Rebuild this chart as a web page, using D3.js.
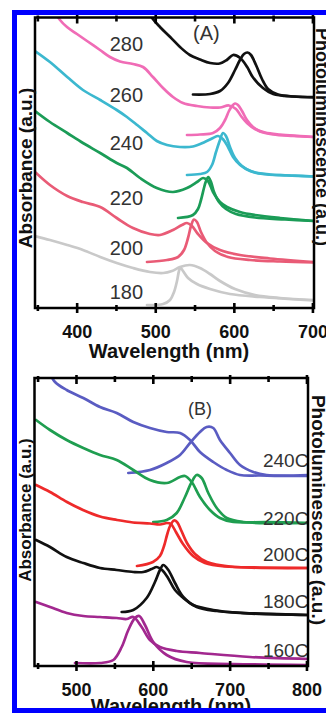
<!DOCTYPE html>
<html>
<head>
<meta charset="utf-8">
<script src="https://cdnjs.cloudflare.com/ajax/libs/d3/7.8.5/d3.min.js"></script>
<style>
  html, body { margin: 0; padding: 0; background: #fff; }
  svg { display: block; }
  text { font-family: Arial, "Liberation Sans", Helvetica, sans-serif; }
</style>
</head>
<body>
<svg id="chart"></svg>
<script>
// wavelength (nm), intensity (a.u., stacked offsets as in the figure)

// ---- panel A: growth temperature
var tempsA = ["280", "260", "240", "220", "200", "180"];
var labelLevelA = [25.7, 20.6, 15.8, 10.3, 5.3, 0.9];
var ticksA = [350, 400, 450, 500, 550, 600, 650, 700];

var absA280 = [[487,30.3],[496,29.0],[506,28.1],[519,27.1],[531.5,26.1],[544,25.3],[557,24.85],[570,24.5],[582,24.45],[591,24.8],[599,25.3],[608,25.0],[617,24.1],[624,23.1],[637,22.0],[650,21.4],[675,21.15],[702,21.1]];
var plA280 = [[548,21.35],[569.7,21.4],[582.4,21.7],[592.6,22.5],[601.5,23.8],[607.8,24.8],[612.9,25.4],[617.4,25.55],[621.8,25.3],[628.2,24.3],[635.8,22.9],[643.5,21.9],[656.2,21.35],[677.8,21.15],[702,21.07]];

var absA260 = [[372.4,29.6],[378.8,28.8],[387.7,28.1],[400.4,27.4],[413.2,26.7],[429.7,25.8],[442.4,25.1],[455.2,24.65],[471.7,24.4],[484.4,24.1],[497.1,23.1],[509.9,22.0],[522.6,21.1],[535.3,20.5],[553.1,20.2],[569.7,20.05],[582.4,20.05],[593.8,20.25],[602.7,19.9],[609.1,19.2],[616.7,18.5],[626.9,17.9],[639.7,17.55],[658.7,17.35],[684.2,17.2],[702,17.1]];
var plA260 = [[540.4,17.3],[556.9,17.35],[573.5,17.5],[582.4,18.0],[588.8,18.8],[593.8,19.7],[597.7,20.2],[601.5,20.45],[605.3,20.3],[610.4,19.7],[616.7,18.8],[624.4,18.1],[633.3,17.65],[649.8,17.35],[675.3,17.2],[702,17.1]];

var absA240 = [[347,25.7],[366,24.6],[388,23.1],[408,21.8],[430,20.8],[451,19.8],[464,19.1],[477,18.3],[489.5,17.5],[502,16.7],[515,16.3],[531.5,16.1],[548,16.15],[563,16.6],[573.5,17.0],[580,17.2],[586,16.9],[592.6,16.1],[599,15.1],[608,14.3],[620.6,13.7],[637,13.4],[667.6,13.25],[702,13.15]];
var plA240 = [[540.4,13.3],[556.9,13.4],[565.9,13.6],[572.2,14.3],[577.3,15.6],[582.4,16.8],[586.2,17.5],[590,17.2],[595.1,16.1],[601.5,15.0],[610.4,14.2],[623.1,13.65],[646,13.35],[677.8,13.25],[702,13.15]];

var absA220 = [[347,19.7],[366,18.6],[388,17.5],[408,16.5],[430,15.5],[451,14.5],[464,14.0],[480.6,13.0],[502,12.0],[522.6,11.6],[540.4,12.0],[553.1,12.6],[560.8,13.0],[567.1,12.7],[573.5,11.6],[582.4,10.6],[591.3,10.1],[607.8,9.6],[626.9,9.3],[658.7,9.0],[702,8.7]];
var plA220 = [[529,9.0],[548,9.3],[554.4,9.9],[558.2,10.8],[562,12.0],[564.6,12.7],[567.5,13.1],[571,12.6],[574.8,11.6],[581.1,10.6],[590,9.9],[602.7,9.4],[626.9,9.05],[665.1,8.85],[702,8.7]];

var absA200 = [[347,13.6],[366,12.3],[388,11.2],[408,10.6],[430,10.1],[451,9.0],[471.7,8.0],[493.3,7.4],[506,7.3],[522.6,7.8],[534,8.3],[540.4,8.5],[546.8,8.2],[554.4,7.4],[565.9,6.5],[582.4,5.8],[607.8,5.3],[646,4.95],[702,4.6]];
var plA200 = [[489.5,4.6],[515,4.8],[529,5.1],[536.6,5.8],[541.7,7.0],[545.5,8.2],[549.3,8.85],[553.1,8.6],[558.2,7.6],[565.9,6.5],[576,5.7],[592.6,5.1],[620.6,4.8],[658.7,4.65],[702,4.55]];

var absA180 = [[347,7.2],[366,6.8],[388,6.3],[408,5.8],[430,5.1],[451,4.5],[471.7,4.0],[493.3,3.6],[510,3.5],[521.3,3.7],[531.5,4.1],[544.2,4.3],[556.9,4.0],[569.7,3.4],[582.4,2.7],[601.5,1.9],[626.9,1.3],[658.7,1.0],[702,0.8]];
var plA180 = [[489.5,0.3],[510,0.4],[518.8,0.8],[523.9,1.6],[527.7,2.7],[530.2,3.7],[532.1,4.05],[535.3,3.7],[541.7,3.0],[553.1,2.4],[569.7,1.9],[595.1,1.4],[633.3,1.1],[702,0.75]];

// ---- panel B: reaction temperature
var tempsB = ["240C", "220C", "200C", "180C", "160C"];
var labelLevelB = [19.9, 14.1, 10.5, 5.8, 0.9];
var ticksB = [450, 500, 550, 600, 650, 700, 750, 800];

var absB240 = [[463.6,29.6],[472.7,28.4],[487.9,27.6],[509.5,26.8],[531.3,25.9],[553,25.3],[574.6,24.4],[596.3,23.8],[618.1,23.4],[635.4,23.3],[648.4,22.6],[661.4,21.4],[678.7,20.4],[696.2,19.6],[713.5,19.1],[739.5,19.05],[778.5,19.0],[802,19.0]];
var plB240 = [[568.1,19.3],[596.3,19.6],[618.1,20.3],[635.4,21.1],[648.4,22.3],[661.4,23.4],[670.1,23.9],[678.7,23.8],[687.4,22.6],[700.5,21.3],[713.5,20.1],[730.8,19.4],[748.2,19.1],[802,19.1]];

var absB220 = [[448,24.6],[466.2,23.6],[487.9,22.6],[509.5,21.8],[531.3,21.1],[553,20.6],[574.6,19.6],[596.3,18.6],[618.1,18.3],[635.4,18.9],[641.9,19.0],[650.6,18.4],[661.4,16.9],[674.4,15.6],[687.4,14.8],[704.8,14.4],[748.2,14.4],[802,14.3]];
var plB220 = [[600.6,14.4],[618.1,14.6],[631.1,15.3],[641.9,16.9],[650.6,18.4],[657.1,19.1],[663.6,18.8],[672.2,17.3],[683.2,15.8],[696.2,14.8],[717.8,14.4],[802,14.3]];

var absB200 = [[448,18.1],[466.2,17.4],[488.3,16.4],[509.1,15.6],[531.3,14.95],[553.4,14.6],[574.2,14.35],[596.3,14.25],[609.3,14.15],[618.5,14.3],[623.6,14.2],[630.1,13.4],[639.3,12.2],[652.3,11.0],[667.9,10.3],[693.9,9.95],[739.5,9.85],[802,9.8]];
var plB200 = [[579.4,10.0],[600.2,10.4],[609.3,11.0],[614.6,12.0],[618.5,13.1],[622.4,14.0],[627.6,14.55],[631.5,14.4],[636.7,13.6],[644.5,12.3],[654.9,11.2],[670.5,10.4],[700.5,9.95],[802,9.8]];

var absB180 = [[448,12.6],[466.2,11.9],[487.9,10.9],[509.5,10.3],[531.3,9.8],[553,9.6],[574.6,9.4],[587.6,9.4],[598.5,9.7],[605.1,9.9],[612,9.6],[619.8,8.8],[628.9,7.6],[639.7,6.8],[652.7,6.1],[678.7,5.6],[713.5,5.3],[802,5.1]];
var plB180 = [[559.5,5.4],[574.6,5.6],[592,6.8],[602.8,8.4],[609.3,9.6],[613.6,10.1],[620.2,9.6],[628.9,8.3],[639.7,6.9],[657.1,5.9],[683.2,5.5],[802,5.1]];

var absB160 = [[448,6.4],[466.2,5.9],[487.9,5.3],[509.5,5.0],[531.3,4.9],[553,4.8],[566,4.7],[574.6,4.9],[585.5,3.9],[596.3,2.6],[609.3,1.9],[631.1,1.5],[661.4,1.3],[726.5,0.9],[802,0.7]];
var plB160 = [[498.7,0.3],[531.3,0.3],[548.6,0.6],[559.5,1.9],[568.1,3.6],[576.8,4.8],[582.4,5.0],[589.8,4.1],[600.6,2.4],[618.1,1.1],[644.1,0.4],[704.8,0.2],[802,0.1]];

var colorsA = ["#111111", "#f06cb6", "#3cb8cf", "#1b9c57", "#e95b76", "#c9c9c9"];
var colorsB = ["#5a5cc2", "#1f9e50", "#ee2a2a", "#111111", "#a2288f"];

var W = 326, H = 713;
var svg = d3.select("#chart").attr("width", W).attr("height", H);
svg.append("rect").attr("width", W).attr("height", H).attr("fill", "#fff");

var panels = [
    {
        id: "A", xDom: [347, 702], yDom: [0, 29.05],
        left: 35, right: 314, top: 17.5, bottom: 308,
        ticks: ticksA, temps: tempsA, levels: labelLevelA, colors: colorsA,
        curves: [[absA280, plA280], [absA260, plA260], [absA240, plA240], [absA220, plA220], [absA200, plA200], [absA180, plA180]],
        labelNm: 442, labelAnchor: "start", labelSize: 20,
        title: "(A)", titleX: 193, titleY: 40, titleSize: 20,
        xTitleX: 169, xTitleY: 358,
        absSize: 19, absX: 31.5, absY: 168,
        plSize: 18, plX: 315.5, plY: 137
    },
    {
        id: "B", xDom: [446, 802], yDom: [0, 28.8],
        left: 34.5, right: 308, top: 378, bottom: 666,
        ticks: ticksB, temps: tempsB, levels: labelLevelB, colors: colorsB,
        curves: [[absB240, plB240], [absB220, plB220], [absB200, plB200], [absB180, plB180], [absB160, plB160]],
        labelNm: 802.5, labelAnchor: "end", labelSize: 19,
        title: "(B)", titleX: 188, titleY: 415, titleSize: 18,
        xTitleX: 171, xTitleY: 713,
        absSize: 17, absX: 31, absY: 510,
        plSize: 19, plX: 311.5, plY: 510
    }
];

panels.forEach(function (p) {
    var x = d3.scaleLinear().domain(p.xDom).range([p.left, p.right]),
        y = d3.scaleLinear().domain(p.yDom).range([p.bottom, p.top]);

    var g = svg.append("g").attr("class", "panel" + p.id);

    g.append("defs").append("clipPath")
        .attr("id", "clip" + p.id)
        .append("rect")
        .attr("x", p.left)
        .attr("y", p.top)
        .attr("width", p.right - p.left)
        .attr("height", p.bottom - p.top);

    var line = d3.line()
        .curve(d3.curveCatmullRom.alpha(0.5))
        .x(function (d) { return x(d[0]); })
        .y(function (d) { return y(d[1]); });

    var curveG = g.append("g").attr("clip-path", "url(#clip" + p.id + ")");
    p.curves.forEach(function (pair, i) {
        curveG.selectAll(null)
            .data(pair)
            .enter()
            .append("path")
            .attr("d", line)
            .attr("fill", "none")
            .attr("stroke", p.colors[i])
            .attr("stroke-width", 2.7)
            .attr("stroke-linejoin", "round")
            .attr("stroke-linecap", "round");
    });

    // temperature labels
    g.selectAll(".tlabel")
        .data(p.temps)
        .enter()
        .append("text")
        .attr("class", "tlabel")
        .attr("x", x(p.labelNm))
        .attr("y", function (d, i) { return y(p.levels[i]); })
        .attr("text-anchor", p.labelAnchor)
        .style("font-size", p.labelSize + "px")
        .attr("fill", "#333")
        .text(function (d) { return d; });

    g.append("text")
        .attr("x", p.titleX)
        .attr("y", p.titleY)
        .style("font-size", p.titleSize + "px")
        .attr("fill", "#333")
        .text(p.title);

    // frame
    g.append("rect")
        .attr("x", p.left)
        .attr("y", p.top)
        .attr("width", p.right - p.left)
        .attr("height", p.bottom - p.top)
        .attr("fill", "none")
        .attr("stroke", "#000")
        .attr("stroke-width", 2.5);

    // bottom axis: labels every 100, ticks every 50 crossing the frame
    var xAxis = d3.axisBottom(x)
        .tickValues(p.ticks)
        .tickSize(0)
        .tickFormat(function (d) { return d % 100 === 0 ? d : ""; });
    var axG = g.append("g")
        .attr("transform", "translate(0," + p.bottom + ")")
        .call(xAxis);
    axG.select(".domain").remove();
    axG.selectAll(".tick line")
        .attr("y1", function (d) { return d % 100 === 0 ? -5 : -3; })
        .attr("y2", function (d) { return d % 100 === 0 ? 5 : 3; })
        .attr("stroke", "#000")
        .attr("stroke-width", 2.6);
    axG.selectAll(".tick text")
        .attr("y", 30)
        .attr("dy", null)
        .attr("fill", "#111")
        .style("font-size", "18px")
        .style("font-weight", "bold");

    var topG = g.append("g")
        .attr("transform", "translate(0," + p.top + ")")
        .call(d3.axisTop(x).tickValues(p.ticks).tickSize(0).tickFormat(""));
    topG.select(".domain").remove();
    topG.selectAll(".tick line")
        .attr("y1", function (d) { return d % 100 === 0 ? -3 : -2; })
        .attr("y2", function (d) { return d % 100 === 0 ? 6 : 4; })
        .attr("stroke", "#000")
        .attr("stroke-width", 2.6);

    g.append("text")
        .attr("x", p.xTitleX)
        .attr("y", p.xTitleY)
        .attr("text-anchor", "middle")
        .style("font-size", "20px")
        .style("font-weight", "bold")
        .attr("fill", "#111")
        .text("Wavelength (nm)");

    g.append("text")
        .attr("transform", "translate(" + p.absX + "," + p.absY + ") rotate(-90)")
        .attr("text-anchor", "middle")
        .style("font-size", p.absSize + "px")
        .style("font-weight", "bold")
        .attr("fill", "#111")
        .text("Absorbance (a.u.)");

    g.append("text")
        .attr("transform", "translate(" + p.plX + "," + p.plY + ") rotate(90)")
        .attr("text-anchor", "middle")
        .style("font-size", p.plSize + "px")
        .style("font-weight", "bold")
        .attr("fill", "#111")
        .text("Photoluminescence (a.u.)");
});

// blue border of the figure
var blue = "#0000ff";
svg.append("rect").attr("x", 12).attr("y", 10).attr("width", 5).attr("height", H - 10).attr("fill", blue);
svg.append("rect").attr("x", 12).attr("y", 10).attr("width", W - 12).attr("height", 5).attr("fill", blue);
svg.append("rect").attr("x", 12).attr("y", 708).attr("width", W - 12).attr("height", 5).attr("fill", blue);
</script>
</body>
</html>
